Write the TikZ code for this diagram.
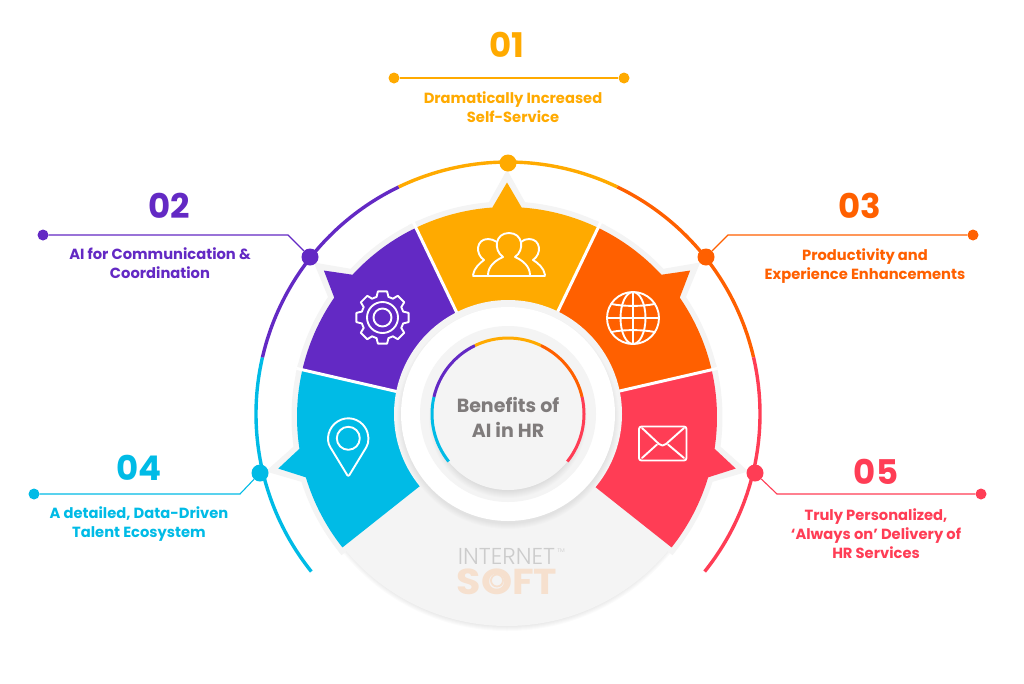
\documentclass[tikz,border=0pt]{standalone}
\usepackage{fontspec}
\setmainfont{Poppins}
\newfontfamily\lightfont{Poppins Light}
\newfontfamily\brandfont{Poppins Bold}[FakeStretch=1.1]
\definecolor{cYellow}{HTML}{FFAA00}
\definecolor{cPurple}{HTML}{6329C4}
\definecolor{cOrange}{HTML}{FF6000}
\definecolor{cBlue}{HTML}{00BBE6}
\definecolor{cRed}{HTML}{FF3D55}
\definecolor{cPanel}{HTML}{F4F4F4}
\definecolor{cCaption}{HTML}{7F7B7B}
\definecolor{cPeach}{HTML}{F6E0CE}
\definecolor{cLogoGrey}{HTML}{CCCCCC}
\tikzset{
  bigdot/.style={circle,fill=#1,inner sep=0pt,minimum size=17pt},
  enddot/.style={circle,fill=#1,inner sep=0pt,minimum size=11pt},
  leader/.style={draw=#1,line width=1.1pt},
  ringarc/.style={draw=#1,line width=3.4pt},
  corearc/.style={draw=#1,line width=3pt},
  numeral/.style={text=#1,font=\fontsize{34}{34}\selectfont\bfseries,inner sep=0pt},
  blurb/.style={text=#1,font=\fontsize{14.7}{19}\selectfont\bfseries,align=center,inner sep=0pt},
  glyph/.style={draw=white,line width=1.9pt,line join=round,line cap=round},
  gap/.style={draw=white,line width=3pt},
  rimline/.style={draw=cPanel,line width=11pt,miter limit=10}
}
% sector with a pointer on its outer edge: start angle, end angle, style, pointer radius
\newcommand{\sector}[4]{%
  \pgfmathsetmacro{\mid}{(#1+#2)/2}%
  \pgfmathsetmacro{\pa}{\mid-4}%
  \pgfmathsetmacro{\pb}{\mid+4}%
  \path[#3] (#1:100) -- (#1:210) arc[start angle=#1,end angle=\pa,radius=210pt]
    -- (\mid:#4) -- (\pb:210) arc[start angle=\pb,end angle=#2,radius=210pt]
    -- (#2:100) -- cycle;}
\begin{document}
\begin{tikzpicture}[x=1pt,y=-1pt]
\useasboundingbox (0,0) rectangle (1024,683);
\fill[white] (0,0) rectangle (1024,683);

% soft shadow and base disc
\begin{scope}[shift={(507,416)},y=1pt]
  \foreach \i in {1,...,8}
    \fill[black,opacity=.014] (0,-4) circle[radius=203+\i];
  \fill[cPanel] (0,0) circle[radius=210];
\end{scope}

\begin{scope}[shift={(507,417)},y=1pt]
  % rims of the sectors and pointers
  \sector{167}{218.4}{rimline}{236}
  \sector{115.7}{167}{rimline}{236}
  \sector{64.3}{115.7}{rimline}{236}
  \sector{13}{64.3}{rimline}{236}
  \sector{-38.4}{13}{rimline}{236}
  % coloured sectors
  \sector{167}{218.4}{fill=cBlue}{234.5}
  \sector{115.7}{167}{fill=cPurple}{234.5}
  \sector{64.3}{115.7}{fill=cYellow}{234.5}
  \sector{13}{64.3}{fill=cOrange}{234.5}
  \sector{-38.4}{13}{fill=cRed}{234.5}
  \draw[gap] (167:100) -- (167:216);
  \draw[gap] (115.7:100) -- (115.7:216);
  \draw[gap] (64.3:100) -- (64.3:216);
  \draw[gap] (13:100) -- (13:216);
\end{scope}

\begin{scope}[shift={(508,414)},y=1pt]
  % outer ring, one arc per colour
  \draw[ringarc=cBlue] (218.7:252) arc[start angle=218.7,end angle=167,radius=252pt];
  \draw[ringarc=cPurple] (167:252) arc[start angle=167,end angle=115.7,radius=252pt];
  \draw[ringarc=cYellow] (115.7:252) arc[start angle=115.7,end angle=64.3,radius=252pt];
  \draw[ringarc=cOrange] (64.3:252) arc[start angle=64.3,end angle=13,radius=252pt];
  \draw[ringarc=cRed] (13:252) arc[start angle=13,end angle=-38.7,radius=252pt];
  % white collar and core
  \fill[cPanel] (0,0) circle[radius=114];
  \foreach \i in {1,...,6}
    \fill[black,opacity=.012] (0,-4) circle[radius=105+\i];
  \fill[white] (0,0) circle[radius=107];
  \fill[cPanel] (0,0) circle[radius=88];
  \foreach \i in {1,...,8}
    \fill[black,opacity=.012] (0,-5) circle[radius=71+\i];
  \fill[cPanel] (0,0) circle[radius=76];
  \draw[corearc=cBlue] (218.7:76) arc[start angle=218.7,end angle=167,radius=76pt];
  \draw[corearc=cPurple] (167:76) arc[start angle=167,end angle=115.7,radius=76pt];
  \draw[corearc=cYellow] (115.7:76) arc[start angle=115.7,end angle=64.3,radius=76pt];
  \draw[corearc=cOrange] (64.3:76) arc[start angle=64.3,end angle=13,radius=76pt];
  \draw[corearc=cRed] (13:76) arc[start angle=13,end angle=-38.7,radius=76pt];
\end{scope}

% people
\draw[glyph] (473,276) -- (545,276);
\draw[glyph] (488,275) .. controls (488,266) and (496,260) .. (503,257)
  .. controls (493,250) and (495,233) .. (509,233)
  .. controls (523,233) and (525,250) .. (515,257)
  .. controls (522,260) and (530,266) .. (530,275);
\draw[glyph] (473,275) .. controls (474,268) and (480,263) .. (484,260)
  .. controls (475,254) and (476,239) .. (488,239) .. controls (491,239) and (494,240) .. (497,242);
\draw[glyph] (545,275) .. controls (544,268) and (538,263) .. (533,260)
  .. controls (542,254) and (541,239) .. (529,239) .. controls (526,239) and (523,240) .. (521,242);

% gear
\begin{scope}[shift={(382.5,317.5)},y=1pt]
  \draw[glyph] (-16:21.5)
    \foreach \a in {0,45,...,315} { -- (\a-16:21.5) -- (\a-10:26.5) -- (\a+10:26.5) -- (\a+16:21.5) } -- cycle;
  \draw[glyph] (0,0) circle[radius=15.5];
  \draw[glyph] (0,0) circle[radius=9];
\end{scope}

% globe
\begin{scope}[shift={(633,318)},y=1pt]
  \draw[glyph] (0,0) circle[radius=26];
  \draw[glyph] (0,0) ellipse[x radius=12.5,y radius=26];
  \draw[glyph] (0,-26) -- (0,26);
  \draw[glyph] (-26,0) -- (26,0);
  \draw[glyph] (-21.5,14) .. controls (-10,11.5) and (10,11.5) .. (21.5,14);
  \draw[glyph] (-21.5,-14) .. controls (-10,-11.5) and (10,-11.5) .. (21.5,-14);
\end{scope}

% map pin
\begin{scope}[shift={(348.3,438.3)},y=1pt]
  \draw[glyph,rounded corners=2pt] (0,-38.5) -- (212:20) arc[start angle=212,end angle=-32,radius=20pt] -- cycle;
  \draw[glyph] (0,0) circle[radius=11.5];
\end{scope}

% envelope
\draw[glyph,rounded corners=2.5pt] (639,426.5) rectangle (686.5,460.5);
\draw[glyph] (642,428) -- (659,444) .. controls (661,446) and (664,446) .. (666,444) -- (684,428);
\draw[glyph] (642,458) -- (657,444.5);
\draw[glyph] (684,458) -- (668,444.5);

% centre caption
\node[text=cCaption,font=\fontsize{19}{25}\selectfont\bfseries,align=center,inner sep=0pt] (core) at (508,417.5) {Benefits of\\AI in HR};

% wordmark
\node[text=cLogoGrey,font=\lightfont\fontsize{23}{23}\selectfont,inner sep=0pt] (brandtop) at (506.5,556) {INTERNET};
\node[text=cLogoGrey,font=\lightfont\fontsize{5.5}{6}\selectfont,inner sep=0pt] (brandmark) at (561,550.5) {TM};
\node[text=cPeach,font=\brandfont\fontsize{36}{36}\selectfont,inner sep=0pt] (brandbot) at (507,581.5) {SOFT};
\draw[draw=cPeach,line width=1.8pt] (497,580.5) circle[radius=6];

% 01
\node[bigdot=cYellow] (hub1) at (508,163) {};
\node[numeral=cYellow] (num1) at (507,45) {01};
\node[enddot=cYellow] (endA1) at (394,78) {};
\node[enddot=cYellow] (endB1) at (624,78) {};
\draw[leader=cYellow] (endA1) -- (endB1);
\node[blurb=cYellow] (txt1) at (513,107.5) {Dramatically Increased\\Self-Service};

% 02
\node[bigdot=cPurple] (hub2) at (310,257) {};
\node[numeral=cPurple] (num2) at (169,206) {02};
\node[enddot=cPurple] (end2) at (43,235) {};
\coordinate (bend2) at (288,235);
\draw[leader=cPurple] (end2) -- (bend2) -- (hub2);
\node[blurb=cPurple] (txt2) at (160,263) {AI for Communication \&\\Coordination};

% 03
\node[bigdot=cOrange] (hub3) at (706,257) {};
\node[numeral=cOrange] (num3) at (860,206) {03};
\node[enddot=cOrange] (end3) at (973,235) {};
\coordinate (bend3) at (728,235);
\draw[leader=cOrange] (end3) -- (bend3) -- (hub3);
\node[blurb=cOrange] (txt3) at (865,266.5) {Productivity and\\Experience Enhancements};

% 04
\node[bigdot=cBlue] (hub4) at (260,473) {};
\node[numeral=cBlue] (num4) at (139,468) {04};
\node[enddot=cBlue] (end4) at (34,494) {};
\coordinate (bend4) at (240,494);
\draw[leader=cBlue] (end4) -- (bend4) -- (hub4);
\node[blurb=cBlue] (txt4) at (139,524.5) {A detailed, Data-Driven\\Talent Ecosystem};

% 05
\node[bigdot=cRed] (hub5) at (755,473) {};
\node[numeral=cRed] (num5) at (876,472) {05};
\node[enddot=cRed] (end5) at (981,494) {};
\coordinate (bend5) at (777,494);
\draw[leader=cRed] (end5) -- (bend5) -- (hub5);
\node[blurb=cRed] (txt5) at (876,533.5) {Truly Personalized,\\‘Always on’ Delivery of\\HR Services};
\end{tikzpicture}
\end{document}
